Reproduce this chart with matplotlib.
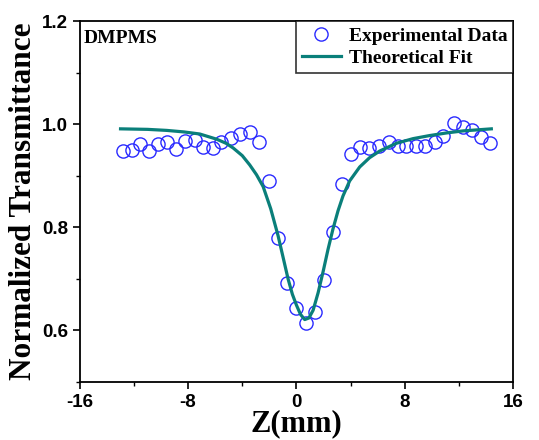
import matplotlib
matplotlib.use("Agg")
import matplotlib.pyplot as plt
from matplotlib.ticker import MultipleLocator

plt.rcParams["axes.unicode_minus"] = False

# ---- data ----
z_exp = [-12.80, -12.18, -11.56, -10.88, -10.21, -9.59, -8.86, -8.24, -7.51, -6.89,
         -6.15, -5.54, -4.80, -4.18, -3.45, -2.76, -2.04, -1.36, -0.69, 0.00,
         0.69, 1.35, 2.01, 2.70, 3.39, 4.06, 4.67, 5.36, 6.10, 6.83,
         7.50, 8.12, 8.80, 9.47, 10.21, 10.82, 11.61, 12.30, 12.99, 13.65, 14.32]
t_exp = [0.948, 0.950, 0.961, 0.948, 0.961, 0.965, 0.952, 0.968, 0.970, 0.955,
         0.953, 0.965, 0.974, 0.981, 0.985, 0.966, 0.889, 0.780, 0.691, 0.643,
         0.615, 0.636, 0.697, 0.791, 0.884, 0.942, 0.955, 0.953, 0.958, 0.965,
         0.958, 0.958, 0.958, 0.957, 0.965, 0.977, 1.003, 0.994, 0.988, 0.975, 0.963]

z_fit = [-12.99, -11.0, -9.59, -8.3, -7.14, -5.90, -5.2, -4.68, -4.0, -3.45, -2.95,
         -2.46, -1.90, -1.36, -0.98, -0.62, -0.30, 0.00, 0.30, 0.61, 0.92,
         1.23, 1.60, 1.96, 2.33, 2.70, 3.07, 3.44, 3.93, 4.67, 5.40,
         6.15, 7.38, 8.61, 9.84, 11.07, 12.30, 14.39]
t_fit = [0.991, 0.990, 0.988, 0.985, 0.981, 0.971, 0.963, 0.954, 0.939, 0.921, 0.902,
         0.879, 0.836, 0.784, 0.741, 0.700, 0.670, 0.649, 0.631, 0.621, 0.624,
         0.639, 0.673, 0.713, 0.757, 0.797, 0.832, 0.861, 0.890, 0.917, 0.935,
         0.948, 0.963, 0.972, 0.978, 0.983, 0.987, 0.991]

serif = "Liberation Serif"
sans = "Liberation Sans"

fig = plt.figure(figsize=(5.39, 4.40), dpi=100)
ax = fig.add_axes([0.148, 0.132, 0.804, 0.820])

ax.plot(z_exp, t_exp, linestyle="none", marker="o", markersize=9.5,
        markerfacecolor="none", markeredgecolor="#2a2aff", markeredgewidth=1.0,
        label="Experimental Data")
ax.plot(z_fit, t_fit, color="#0a7f7a", linewidth=2.3, label="Theoretical Fit")

ax.set_xlim(-16, 16)
ax.set_ylim(0.5, 1.2)
ax.xaxis.set_major_locator(MultipleLocator(8))
ax.xaxis.set_minor_locator(MultipleLocator(4))
ax.yaxis.set_minor_locator(MultipleLocator(0.1))
ax.set_yticks([0.6, 0.8, 1.0, 1.2])

ax.tick_params(which="major", direction="out", length=5, width=1.2)
ax.tick_params(which="minor", direction="out", length=3, width=1.0)
for lab in ax.get_xticklabels() + ax.get_yticklabels():
    lab.set_fontfamily(sans)
    lab.set_fontweight("bold")
    lab.set_fontsize(13.5)
for sp in ax.spines.values():
    sp.set_linewidth(1.3)

ax.set_xlabel("Z(mm)", fontfamily=serif, fontweight="bold", fontsize=22, labelpad=-1)
ax.set_ylabel("Normalized Transmittance", fontfamily=serif, fontweight="bold",
              fontsize=22.5, labelpad=3)

ax.text(0.008, 0.975, "DMPMS", transform=ax.transAxes, ha="left", va="top",
        fontfamily=serif, fontweight="bold", fontsize=14)

leg = ax.legend(loc="upper right", borderaxespad=0, fancybox=False,
                prop={"family": serif, "weight": "bold", "size": 14},
                handlelength=2.0, handletextpad=0.4, borderpad=0.3, labelspacing=0.25)
leg.get_frame().set_edgecolor("black")
leg.get_frame().set_linewidth(1.2)

fig.savefig("out.png", dpi=100)
